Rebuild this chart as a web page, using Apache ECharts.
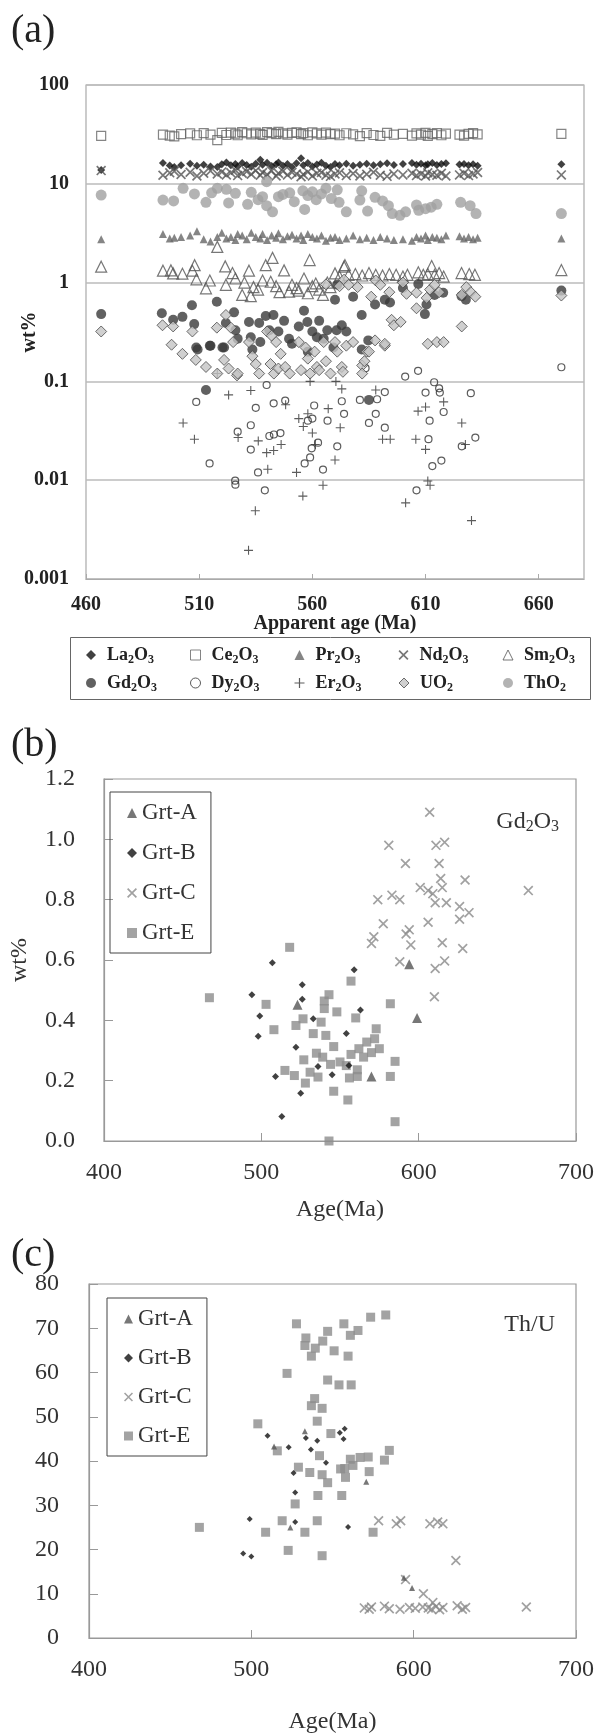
<!DOCTYPE html>
<html lang="en">
    <head>
        <meta charset="UTF-8" />
        <title>Monazite chemistry vs apparent age</title>
        <style>
            * {
                box-sizing: border-box;
                margin: 0;
                padding: 0;
            }
            body {
                background: #fff;
            }
            .container {
                width: 597px;
                height: 1735px;
            }
        </style>
    </head>
    <body>
        <div class="container" id="chart"></div>
        <script src="https://unpkg.com/echarts@6/dist/echarts.min.js"></script>
        <script>
            // ---------- (a) wt% vs apparent age (log scale) ----------
            // La, Ce, Nd, Pr share the same analysis ages
            const bandAges = [
                466.7, 494, 497, 499, 502, 506, 509, 512, 515, 518,
                520, 522, 524, 526, 527, 529, 531, 533, 535, 537,
                538, 540, 542, 544, 545, 547, 549, 551, 553, 555,
                556, 558, 560, 562, 564, 566, 568, 570, 572, 575,
                578, 581, 584, 587, 590, 593, 596, 600, 604, 606,
                608, 610, 611, 613, 615, 617, 619, 625, 627, 629,
                631, 633, 670
            ]
            const laValues = [
                13.8, 16.2, 15.3, 14.8, 15.4, 16.0, 15.2, 15.6, 15.0, 14.8,
                15.8, 16.4, 15.4, 15.9, 15.0, 16.2, 15.5, 14.9, 16.0, 17.5,
                15.6, 16.3, 15.1, 15.8, 16.4, 15.2, 15.9, 14.8, 16.1, 18.1,
                15.4, 16.2, 15.0, 15.7, 16.3, 15.2, 14.8, 15.9, 15.4, 16.0,
                15.2, 15.6, 16.0, 15.4, 15.8, 16.1, 15.5, 15.9, 16.2, 15.6,
                16.0, 15.4, 15.8, 16.2, 15.5, 15.9, 16.1, 15.7, 15.9, 15.4,
                15.8, 15.2, 15.8
            ]
            const ceValues = [
                30.6, 31.5, 30.8, 30.2, 31.8, 32.4, 31.0, 32.6, 31.4, 27.7,
                32.8, 31.2, 33.0, 32.2, 31.0, 33.4, 32.5, 31.6, 33.0, 32.0,
                31.2, 33.3, 32.6, 31.8, 33.5, 32.4, 31.4, 32.8, 33.2, 31.9,
                32.6, 31.0, 33.1, 32.4, 31.5, 32.9, 31.8, 32.2, 31.0, 32.5,
                31.6, 30.4, 32.6, 31.2, 30.6, 32.8, 31.4, 32.0, 30.8, 32.4,
                31.4, 32.8, 30.6, 31.8, 32.6, 31.0, 32.2, 31.4, 30.8, 32.0,
                32.6, 31.6, 32.0
            ]
            const prValues = [
                2.74, 3.1, 2.8, 2.85, 2.9, 3.0, 3.3, 2.75, 2.6, 2.9,
                3.2, 2.8, 2.9, 2.7, 3.1, 3.0, 2.75, 3.2, 2.9, 2.8,
                3.1, 2.7, 3.0, 2.85, 3.15, 2.75, 2.95, 3.05, 2.8, 3.0,
                2.7, 3.1, 2.9, 2.8, 3.0, 2.65, 2.85, 2.9, 2.7, 2.8,
                3.0, 2.75, 2.85, 2.7, 2.9, 2.8, 2.7, 2.75, 2.65, 2.9,
                2.8, 3.0, 2.7, 2.9, 2.85, 2.75, 3.0, 2.95, 2.8, 2.9,
                2.75, 2.85, 2.8
            ]
            const ndValues = [
                13.6, 12.2, 12.9, 13.4, 12.4, 13.1, 12.0, 12.8, 13.5, 12.6,
                13.2, 12.3, 12.9, 13.7, 12.1, 12.8, 13.3, 12.5, 13.6, 12.2,
                13.0, 12.4, 13.5, 12.0, 12.8, 13.4, 12.3, 13.1, 12.6, 11.8,
                12.4, 13.2, 12.0, 12.8, 13.0, 12.2, 11.9, 12.6, 12.9, 12.1,
                12.7, 12.0, 12.5, 13.1, 12.2, 11.9, 12.6, 12.3, 12.8, 12.1,
                12.6, 12.0, 12.9, 12.4, 12.2, 12.8, 12.0, 12.3, 12.8, 12.1,
                12.6, 13.0, 12.3
            ]
            // [age, wt%]
            const smPoints = [
                [466.7, 1.45], [494, 1.32], [497.5, 1.33], [498.5, 1.24], [502.6, 1.23], [507, 1.32],
                [508, 1.5], [508.8, 1.08], [513, 0.875], [514.7, 1.05], [518, 2.3], [521.5, 1.46],
                [521.8, 0.95], [524.7, 1.25], [526, 1.1], [529, 0.75], [530, 1.0], [532, 1.32],
                [532.8, 0.73], [534, 0.9], [536, 0.85], [538, 1.05], [539.4, 1.5], [541.6, 1.02],
                [542.4, 1.78], [544, 0.92], [545.5, 0.8], [547.5, 1.33], [549.7, 0.81], [551, 0.95],
                [553, 0.88], [554, 0.83], [556.3, 1.1], [558, 0.78], [558.8, 1.69], [560, 0.92],
                [561.5, 0.98], [563, 0.85], [564.7, 0.75], [566.6, 1.0], [568, 0.9], [570, 1.24],
                [572, 1.15], [574, 1.45], [574.4, 1.5], [576, 1.2], [579, 1.22], [582, 1.18],
                [585, 1.25], [588, 1.2], [591, 1.18], [594, 1.22], [597, 1.2], [600, 1.15],
                [602, 1.2], [606.8, 1.27], [609, 1.2], [611, 1.22], [612.7, 1.47], [614, 1.2],
                [616, 1.25], [618, 1.15], [625.9, 1.25], [629.3, 1.22], [631.8, 1.2], [670, 1.34]
            ]
            const gdPoints = [
                [466.7, 0.48], [493.5, 0.49], [498.5, 0.42], [502.6, 0.45], [506.8, 0.59], [507.8, 0.38],
                [508.7, 0.22], [509.3, 0.21], [513, 0.082], [514.7, 0.23], [515, 0.23], [517.8, 0.64],
                [520.3, 0.22], [521, 0.22], [521.8, 0.39], [525.4, 0.5], [526, 0.33], [527, 0.27],
                [532, 0.4], [532.8, 0.28], [533.5, 0.21], [536.5, 0.39], [537, 0.25], [539.4, 0.46],
                [541, 0.33], [542.8, 0.47], [545, 0.32], [547.5, 0.41], [549.7, 0.27], [551, 0.24],
                [554, 0.36], [556.3, 0.52], [557.8, 0.4], [558, 0.2], [560, 0.32], [562, 0.28],
                [563, 0.41], [565, 0.27], [566.6, 0.33], [569.3, 0.22], [570, 0.67], [570.7, 0.33],
                [571, 0.95], [573, 0.37], [575, 0.32], [578, 0.72], [581.8, 0.47], [581.8, 0.21],
                [584.7, 0.26], [585, 0.065], [587.7, 0.6], [592, 0.67], [594.3, 0.63], [600, 0.88],
                [606.8, 0.97], [609.7, 0.48], [610.4, 0.6], [614, 0.75], [617.8, 0.79], [625.9, 0.73],
                [627.8, 0.67], [670, 0.83]
            ]
            const dyPoints = [
                [508.7, 0.062], [514.6, 0.0148], [525.9, 0.0099], [526, 0.009], [527, 0.031], [532.8, 0.036],
                [532.8, 0.0204], [535, 0.054], [536, 0.012], [539, 0.0079], [539.8, 0.092], [541, 0.028],
                [542.9, 0.06], [543, 0.029], [545.9, 0.03], [548, 0.064], [556.6, 0.0148], [558, 0.04],
                [559, 0.017], [559.7, 0.021], [560.8, 0.057], [560, 0.042], [562.5, 0.024], [564.7, 0.0128],
                [566.7, 0.04], [571, 0.022], [573, 0.063], [574, 0.047], [581, 0.065], [583.5, 0.136],
                [585, 0.038], [588, 0.047], [588.6, 0.066], [592, 0.078], [592, 0.034], [601, 0.112],
                [606, 0.0079], [606.7, 0.128], [610, 0.077], [611.3, 0.026], [611.8, 0.04], [613, 0.0139],
                [613.8, 0.098], [616, 0.085], [616.3, 0.077], [617, 0.0158], [618, 0.049], [626, 0.022],
                [630, 0.076], [632, 0.027], [670, 0.139]
            ]
            const erPoints = [
                [502.9, 0.038], [507.9, 0.026], [518, 0.12], [523, 0.073], [527.2, 0.027], [531.8, 0.00195],
                [532.8, 0.081], [534.8, 0.0049], [536.1, 0.025], [539.8, 0.019], [540.3, 0.0129], [542.9, 0.02],
                [546.2, 0.023], [548.2, 0.058], [553, 0.012], [554, 0.042], [555.8, 0.0069], [556, 0.035],
                [558, 0.047], [559, 0.1], [560, 0.03], [561.3, 0.023], [564.7, 0.0089], [567, 0.053],
                [570, 0.016], [570.4, 0.1], [572.3, 0.034], [573, 0.084], [588, 0.082], [591, 0.026],
                [594.4, 0.026], [601.2, 0.0059], [605.7, 0.026], [606.7, 0.05], [610, 0.055], [610, 0.0205],
                [611, 0.0098], [612, 0.0089], [618, 0.062], [626, 0.038], [627.6, 0.023], [630.3, 0.0039]
            ]
            const uPoints = [
                [466.7, 0.32], [493.8, 0.37], [497.8, 0.235], [498.5, 0.36], [502.6, 0.19], [507, 0.32],
                [508.5, 0.165], [513, 0.14], [517.8, 0.35], [518, 0.12], [521, 0.165], [521.8, 0.47],
                [523, 0.135], [524, 0.35], [525, 0.25], [526.7, 0.115], [527, 0.12], [532, 0.25],
                [533.5, 0.18], [535, 0.15], [536.5, 0.12], [540, 0.32], [541.5, 0.15], [542, 0.29],
                [543, 0.12], [544, 0.25], [545, 0.135], [546, 0.19], [548, 0.14], [550, 0.12],
                [554, 0.25], [555, 0.13], [557, 0.22], [558, 0.17], [559, 0.12], [561, 0.2],
                [562, 0.14], [563, 0.13], [565, 0.25], [566, 0.16], [566, 0.96], [568, 0.12],
                [570, 0.25], [571, 0.2], [572, 0.92], [573, 0.14], [573.5, 0.125], [574, 1.07],
                [575, 0.23], [576, 0.95], [578, 0.25], [580, 0.9], [582, 0.145], [582, 0.12],
                [583, 0.16], [584, 0.2], [585, 0.2], [586, 0.72], [587.7, 0.26], [588, 1.05],
                [590, 0.95], [592, 0.23], [592, 0.24], [594, 0.8], [595, 0.42], [596, 0.37],
                [599, 0.4], [600, 1.0], [601.6, 0.77], [606, 0.55], [606, 0.79], [610.5, 0.7],
                [611, 0.24], [612, 0.85], [614, 0.95], [615, 0.25], [616, 0.8], [618, 0.25],
                [626, 0.36], [626, 0.75], [628, 0.9], [630, 0.8], [632, 0.72], [670, 0.74]
            ]
            const thPoints = [
                [466.7, 7.7], [494, 6.85], [498.7, 6.7], [502.9, 9.0], [507.9, 7.9], [513, 6.5],
                [515.5, 8.1], [518, 9.0], [522, 8.8], [523, 6.4], [526, 8.0], [531.4, 6.2],
                [533, 8.2], [536, 6.9], [538, 7.4], [539.8, 6.0], [539.8, 10.5], [542.4, 5.2],
                [545, 7.4], [547, 7.8], [550, 8.1], [552, 6.6], [555.8, 8.5], [556.6, 5.5],
                [558, 7.6], [560, 8.3], [561.7, 6.9], [564, 7.9], [566, 9.0], [568.4, 7.1],
                [571, 8.7], [571.8, 6.5], [575, 5.2], [581, 6.85], [581.8, 8.5], [584.4, 5.3],
                [587.7, 7.3], [591, 6.7], [593.6, 6.0], [595.3, 5.0], [598.7, 4.8], [601.2, 5.2],
                [606, 6.1], [607, 5.4], [610, 5.6], [612.5, 5.8], [615, 6.2], [625.5, 6.5],
                [629.7, 6.0], [632.3, 5.0], [670, 5.0]
            ]

            // ---------- (b) Gd2O3 wt% by garnet group ----------
            const gdGrtA = [[594, 0.586], [599, 0.408], [523, 0.452], [570, 0.214]]
            const gdGrtB = [
                [507, 0.591], [494, 0.485], [499, 0.414], [498, 0.347], [526, 0.518], [526, 0.47],
                [533, 0.405], [559, 0.568], [563, 0.434], [554, 0.356], [522, 0.311], [536, 0.247],
                [545, 0.22], [509, 0.214], [525, 0.158], [513, 0.081], [555.7, 0.25]
            ]
            const gdGrtC = [
                [607, 1.09], [581, 0.98], [611, 0.98], [616.5, 0.99], [591.6, 0.92], [613, 0.92],
                [629.5, 0.865], [614, 0.87], [615, 0.84], [601, 0.84], [606, 0.83], [609, 0.82],
                [583, 0.815], [588, 0.8], [574, 0.8], [610.5, 0.79], [617.6, 0.79], [626, 0.777],
                [632, 0.757], [626, 0.735], [606, 0.725], [577.5, 0.72], [594, 0.7], [592, 0.686],
                [571.5, 0.677], [570, 0.655], [595, 0.65], [615, 0.657], [628, 0.638], [588, 0.594],
                [616.5, 0.597], [610.5, 0.572], [610, 0.478], [669.7, 0.83]
            ]
            const gdGrtE = [
                [467, 0.475], [518, 0.642], [503, 0.453], [508, 0.369], [522, 0.383], [526.5, 0.405],
                [538, 0.394], [540, 0.464], [540, 0.439], [543, 0.485], [548, 0.428], [557, 0.53],
                [560, 0.408], [573, 0.372], [572, 0.339], [567, 0.328], [562, 0.306], [575, 0.306],
                [570, 0.293], [565, 0.278], [557, 0.287], [546, 0.313], [541, 0.35], [533, 0.356],
                [535, 0.291], [539, 0.278], [544, 0.254], [550, 0.262], [554, 0.25], [561, 0.236],
                [527, 0.269], [531, 0.228], [536, 0.212], [528, 0.192], [515, 0.234], [521, 0.217],
                [556, 0.209], [561, 0.214], [582, 0.214], [585, 0.264], [582, 0.455], [546, 0.165],
                [555, 0.136], [585, 0.064], [543, 0.0]
            ]

            // ---------- (c) Th/U by garnet group ----------
            const thuGrtA = [[524, 25.0], [570.8, 35.3], [594, 13.6], [599, 11.3], [533, 46.7], [514, 43.3]]
            const thuGrtB = [
                [510, 45.7], [523, 43.1], [533.6, 45.2], [540.6, 44.6], [536.7, 42.6], [546, 39.6],
                [554.5, 46.4], [557.5, 47.3], [556.8, 45.0], [526, 37.3], [527, 32.9], [499, 26.9],
                [527, 26.2], [559.6, 25.1], [495, 19.1], [500, 18.4]
            ]
            const thuGrtC = [
                [578.4, 26.5], [589.3, 25.8], [592, 26.5], [610, 25.8], [614.8, 26.2], [618, 25.8],
                [626, 17.5], [595, 13.2], [606, 10.0], [611.8, 8.0], [669.4, 7.0],
                [569.6, 6.8], [572.6, 6.5], [574, 7.0], [582, 7.2], [585, 6.6], [591.6, 6.5],
                [597.4, 6.9], [601, 6.7], [605.6, 7.0], [609, 6.8], [611, 6.5], [613.7, 7.1],
                [616, 6.4], [618, 6.9], [626.8, 7.3], [630, 6.5], [632, 6.9]
            ]
            const thuGrtE = [
                [527.8, 71.0], [533.6, 67.8], [533, 66.1], [537, 63.7], [539.4, 65.5], [544, 67.1],
                [547, 69.3], [551, 64.9], [557, 71.0], [559.6, 63.7], [561, 68.4], [565.7, 69.5],
                [573.5, 72.5], [582.8, 73.0], [522, 59.8], [547, 58.3], [554, 57.2], [561.5, 57.2],
                [539, 54.1], [537, 52.5], [543.6, 51.9], [540.6, 49.0], [504, 48.4], [549, 46.2],
                [516, 42.3], [542, 41.2], [561, 40.4], [567, 40.8], [572, 40.9], [582, 40.2],
                [585, 42.4], [529, 38.6], [536, 37.4], [543.6, 36.9], [547, 35.1], [555, 38.2],
                [557.5, 38.3], [558, 36.3], [562.6, 39.0], [572.6, 37.6], [541, 32.2], [555.7, 32.2],
                [527, 30.3], [519, 26.5], [540.6, 26.5], [468, 25.0], [508.8, 23.9], [533, 23.9],
                [575, 23.9], [522.7, 19.8], [543.6, 18.6]
            ]

            const FONT = '"Liberation Serif", "Times New Roman", serif'
            const CROSS = 'path://M0,1.2L1.2,0L10,8.8L8.8,10Z M8.8,0L10,1.2L1.2,10L0,8.8Z'
            const PLUS = 'path://M4.4,0H5.6V4.4H10V5.6H5.6V10H4.4V5.6H0V4.4H4.4Z'

            // 下标：La2O3 -> La{s|2}O{s|3}
            const subFmt = (name) => name.replace(/(\d)/g, '{s|$1}')

            function scatter(name, data, idx, symbol, size, itemStyle) {
                return {
                    type: 'scatter',
                    name: name,
                    data: data,
                    xAxisIndex: idx,
                    yAxisIndex: idx,
                    symbol: symbol,
                    symbolSize: size,
                    itemStyle: itemStyle,
                    animation: false,
                    silent: true
                }
            }
            const pair = (ages, vals) => ages.map((a, i) => [a, vals[i]])
            const open = (c) => ({ color: 'rgba(0,0,0,0)', borderColor: c, borderWidth: 1.2 })

            const boldLabel = { fontFamily: FONT, fontWeight: 'bold', fontSize: 20, color: '#222' }
            const plainLabel = { fontFamily: FONT, fontSize: 24, color: '#333' }

            const legendA = (names, top) => ({
                data: names,
                left: 86,
                top: top,
                width: 540,
                orient: 'horizontal',
                padding: 0,
                itemGap: 0,
                itemWidth: 10,
                itemHeight: 10,
                selectedMode: false,
                itemStyle: { borderWidth: 1 },
                formatter: subFmt,
                textStyle: {
                    fontFamily: FONT,
                    fontWeight: 'bold',
                    fontSize: 18,
                    color: '#222',
                    width: 83,
                    lineHeight: 22,
                    padding: [0, 0, 0, 6],
                    rich: {
                        s: { fontFamily: FONT, fontWeight: 'bold', fontSize: 12, color: '#222', padding: [9, 0, 0, 0] }
                    }
                }
            })
            const legendGrt = (left, top, gap, size) => ({
                data: ['Grt-A', 'Grt-B', 'Grt-C', 'Grt-E'],
                left: left,
                top: top,
                orient: 'vertical',
                padding: [8, 14, 7, 17],
                itemGap: gap,
                itemWidth: size,
                itemHeight: size,
                selectedMode: false,
                borderColor: '#444',
                borderWidth: 1,
                borderRadius: 0,
                textStyle: { fontFamily: FONT, fontSize: 23, color: '#333', lineHeight: 26 }
            })

            const chart = echarts.init(document.getElementById('chart'), null, { renderer: 'canvas' })
            chart.setOption({
                backgroundColor: '#fff',
                title: [
                    { text: '(a)', left: 6, top: 6, textStyle: { fontFamily: FONT, fontSize: 40, fontWeight: 'normal', color: '#222' } },
                    { text: '(b)', left: 6, top: 720, textStyle: { fontFamily: FONT, fontSize: 40, fontWeight: 'normal', color: '#222' } },
                    { text: '(c)', left: 6, top: 1230, textStyle: { fontFamily: FONT, fontSize: 40, fontWeight: 'normal', color: '#222' } },
                    {
                        text: subFmt('Gd2O3'),
                        right: 33,
                        top: 803,
                        textStyle: {
                            fontFamily: FONT, fontSize: 24, fontWeight: 'normal', color: '#333', lineHeight: 28,
                            rich: { s: { fontFamily: FONT, fontSize: 16, color: '#333', padding: [10, 0, 0, 0] } }
                        }
                    },
                    { text: 'Th/U', right: 37, top: 1308, textStyle: { fontFamily: FONT, fontSize: 24, fontWeight: 'normal', color: '#333' } }
                ],
                // legend frame of panel (a)
                graphic: [
                    {
                        type: 'rect',
                        left: 68,
                        top: 635,
                        shape: { width: 520, height: 62 },
                        style: { fill: 'none', stroke: '#666', lineWidth: 1 },
                        silent: true
                    }
                ],
                legend: [
                    legendA(['La2O3', 'Ce2O3', 'Pr2O3', 'Nd2O3', 'Sm2O3'], 644),
                    legendA(['Gd2O3', 'Dy2O3', 'Er2O3', 'UO2', 'ThO2'], 672),
                    legendGrt(110, 792, 14, 10),
                    legendGrt(107, 1298, 13, 9)
                ],
                grid: [
                    { left: 86, top: 85, width: 498, height: 494, show: true, borderColor: '#aaa', borderWidth: 1.2 },
                    { left: 95, top: 779, width: 483, height: 362, show: true, borderColor: '#999', borderWidth: 1.2 },
                    { left: 89, top: 1284, width: 489, height: 364, show: true, borderColor: '#999', borderWidth: 1.2 }
                ],
                xAxis: [
                    {
                        gridIndex: 0,
                        type: 'value',
                        min: 460,
                        max: 680,
                        interval: 50,
                        axisLine: { lineStyle: { color: '#aaa', width: 1.2 } },
                        axisTick: { inside: true, length: 5, lineStyle: { color: '#aaa' } },
                        axisLabel: Object.assign({ margin: 16, showMaxLabel: false }, boldLabel),
                        splitLine: { show: false },
                        name: 'Apparent age (Ma)',
                        nameLocation: 'middle',
                        nameGap: 35,
                        nameMoveOverlap: false,
                        nameTextStyle: boldLabel
                    },
                    {
                        gridIndex: 1,
                        type: 'value',
                        min: 400,
                        max: 700,
                        interval: 100,
                        axisLine: { lineStyle: { color: '#999', width: 1.2 } },
                        axisTick: { inside: true, length: 8, lineStyle: { color: '#999' } },
                        axisLabel: Object.assign({ margin: 20 }, plainLabel),
                        splitLine: { show: false },
                        name: 'Age(Ma)',
                        nameLocation: 'middle',
                        nameGap: 57,
                        nameMoveOverlap: false,
                        nameTextStyle: plainLabel
                    },
                    {
                        gridIndex: 2,
                        type: 'value',
                        min: 400,
                        max: 700,
                        interval: 100,
                        axisLine: { lineStyle: { color: '#999', width: 1.2 } },
                        axisTick: { inside: true, length: 8, lineStyle: { color: '#999' } },
                        axisLabel: Object.assign({ margin: 20 }, plainLabel),
                        splitLine: { show: false },
                        name: 'Age(Ma)',
                        nameLocation: 'middle',
                        nameGap: 72,
                        nameMoveOverlap: false,
                        nameTextStyle: plainLabel
                    }
                ],
                yAxis: [
                    {
                        gridIndex: 0,
                        type: 'log',
                        logBase: 10,
                        min: 0.001,
                        max: 100,
                        axisLine: { show: false },
                        axisTick: { show: false },
                        axisLabel: Object.assign({
                            margin: 17,
                            formatter: (v) => {
                                const e = Math.round(Math.log10(v))
                                return e >= 0 ? String(Math.pow(10, e)) : Math.pow(10, e).toFixed(-e)
                            }
                        }, boldLabel),
                        splitLine: { show: true, lineStyle: { color: '#bbb', width: 1.5 } },
                        name: 'wt%',
                        nameLocation: 'middle',
                        nameRotate: 90,
                        nameGap: 46,
                        nameMoveOverlap: false,
                        nameTextStyle: boldLabel
                    },
                    {
                        gridIndex: 1,
                        type: 'value',
                        min: 0,
                        max: 1.2,
                        interval: 0.2,
                        axisLine: { show: true, lineStyle: { color: '#999', width: 1.2 } },
                        axisTick: { show: true, inside: true, length: 9, lineStyle: { color: '#999' } },
                        axisLabel: Object.assign({ margin: 29, formatter: (v) => v.toFixed(1) }, plainLabel),
                        splitLine: { show: false },
                        name: 'wt%',
                        nameLocation: 'middle',
                        nameRotate: 90,
                        nameGap: 72,
                        nameMoveOverlap: false,
                        nameTextStyle: plainLabel
                    },
                    {
                        gridIndex: 2,
                        type: 'value',
                        min: 0,
                        max: 80,
                        interval: 10,
                        axisLine: { show: true, lineStyle: { color: '#999', width: 1.2 } },
                        axisTick: { show: true, inside: true, length: 9, lineStyle: { color: '#999' } },
                        axisLabel: Object.assign({ margin: 30 }, plainLabel),
                        splitLine: { show: false }
                    }
                ],
                series: [
                    // (a)
                    scatter('La2O3', pair(bandAges, laValues), 0, 'diamond', 8, { color: '#111' }),
                    scatter('Ce2O3', pair(bandAges, ceValues), 0, 'rect', 9, open('#666')),
                    scatter('Pr2O3', pair(bandAges, prValues), 0, 'triangle', 8, { color: '#666' }),
                    scatter('Nd2O3', pair(bandAges, ndValues), 0, CROSS, 10, { color: '#555' }),
                    scatter('Sm2O3', smPoints, 0, 'triangle', 11, open('#555')),
                    scatter('Gd2O3', gdPoints, 0, 'circle', 10, { color: '#3a3a3a' }),
                    scatter('Dy2O3', dyPoints, 0, 'circle', 7, open('#333')),
                    scatter('Er2O3', erPoints, 0, PLUS, 9, { color: '#333' }),
                    scatter('UO2', uPoints, 0, 'diamond', 11, { color: '#c4c4c4', borderColor: '#4a4a4a', borderWidth: 1 }),
                    scatter('ThO2', thPoints, 0, 'circle', 11, { color: '#a0a0a0' }),
                    // (b)
                    scatter('Grt-C', gdGrtC, 1, CROSS, 10, { color: '#8a8a8a' }),
                    scatter('Grt-E', gdGrtE, 1, 'rect', 9, { color: '#8c8c8c' }),
                    scatter('Grt-B', gdGrtB, 1, 'diamond', 7, { color: '#111' }),
                    scatter('Grt-A', gdGrtA, 1, 'triangle', 10, { color: '#555' }),
                    // (c)
                    scatter('Grt-C', thuGrtC, 2, CROSS, 10, { color: '#8a8a8a' }),
                    scatter('Grt-E', thuGrtE, 2, 'rect', 9, { color: '#8c8c8c' }),
                    scatter('Grt-B', thuGrtB, 2, 'diamond', 6, { color: '#111' }),
                    scatter('Grt-A', thuGrtA, 2, 'triangle', 6, { color: '#555' })
                ]
            })
        </script>
    </body>
</html>
